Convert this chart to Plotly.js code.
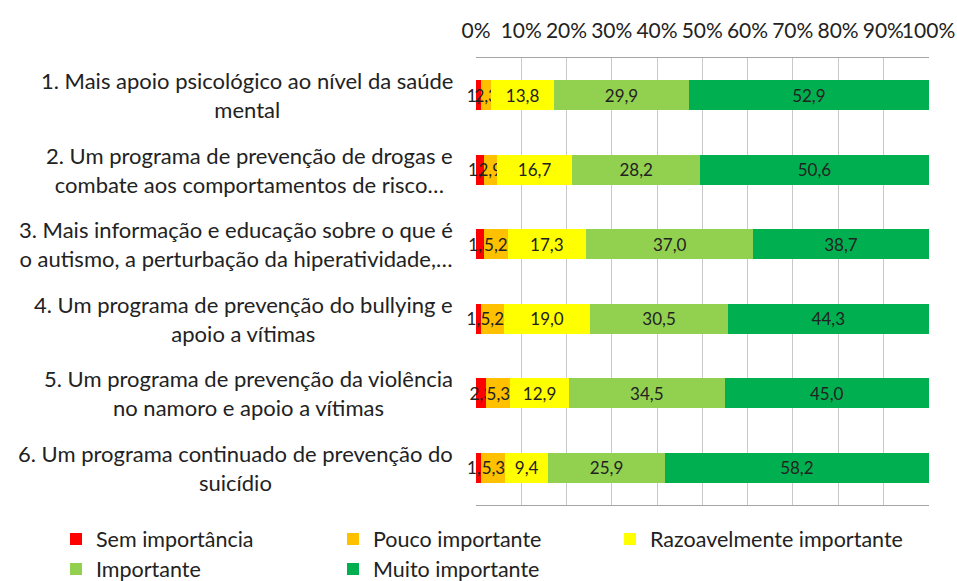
<!DOCTYPE html>
<html>
<head>
<meta charset="utf-8">
<script src="https://cdn.plot.ly/plotly-3.0.1.min.js"></script>
<style>html,body{margin:0;padding:0;background:#fff;}#chart{width:957px;height:581px;}</style>
</head>
<body>
<div id="chart"></div>
<script>
const categories = ["Q1", "Q2", "Q3", "Q4", "Q5", "Q6"];
const categoryLabels = [
  "1. Mais apoio psicológico ao nível da saúde<br>mental",
  "2. Um programa de prevenção de drogas e<br>combate aos comportamentos de risco…",
  "3. Mais informação e educação sobre o que é<br>o autismo, a perturbação da hiperatividade,…",
  "4. Um programa de prevenção do bullying e<br>apoio a vítimas",
  "5. Um programa de prevenção da violência<br>no namoro e apoio a vítimas",
  "6. Um programa continuado de prevenção do<br>suicídio"
];
const seriesNames = ["Sem importância", "Pouco importante", "Razoavelmente importante", "Importante", "Muito importante"];
const semImportancia = [1.1, 1.7, 1.8, 1.0, 2.3, 1.2];
const poucoImportante = [2.3, 2.9, 5.2, 5.2, 5.3, 5.3];
const razoavelmente = [13.8, 16.7, 17.3, 19.0, 12.9, 9.4];
const importante = [29.9, 28.2, 37.0, 30.5, 34.5, 25.9];
const muitoImportante = [52.9, 50.6, 38.7, 44.3, 45.0, 58.2];
const tickValues = [0, 10, 20, 30, 40, 50, 60, 70, 80, 90, 100];

const colors = ["#FF0000", "#FFC000", "#FFFF00", "#92D050", "#00B050"];
const allSeries = [semImportancia, poucoImportante, razoavelmente, importante, muitoImportante];
const legendIds = ["legend", "legend2", "legend3", "legend4", "legend5"];
// legend item placement (pixels in the figure): left edge and vertical centre
const legendLeft = [56, 333, 610, 56, 333];
const legendMid = [539, 539, 539, 569, 569];
const FONT = "Lato, sans-serif";

const traces = allSeries.map((vals, i) => ({
  type: "bar",
  orientation: "h",
  name: seriesNames[i],
  legend: legendIds[i],
  y: categories,
  x: vals,
  marker: {color: colors[i], line: {width: 0}},
  text: vals.map(v => v.toFixed(1).replace(".", ",")),
  textposition: "inside",
  insidetextanchor: "middle",
  textangle: 0,
  constraintext: "none",
  cliponaxis: false,
  textfont: {family: FONT, size: 17, color: "#222"},
  hoverinfo: "x+name"
}));

const annotations = categories.map((c, i) => ({
  xref: "paper", yref: "y",
  x: -0.046, y: c,
  xanchor: "right", yanchor: "middle",
  text: categoryLabels[i],
  align: "center",
  showarrow: false,
  font: {family: FONT, size: 22, color: "#222"}
}));

const ML = 476, MT = 58, PW = 453, PH = 447;

const layout = {
  width: 957, height: 581,
  margin: {l: ML, r: 28, t: MT, b: 76, autoexpand: false},
  barmode: "stack",
  bargap: 0.6,
  paper_bgcolor: "#fff",
  plot_bgcolor: "#fff",
  font: {family: FONT, color: "#222"},
  xaxis: {
    side: "top",
    range: [0, 100.1],
    tickvals: tickValues,
    ticktext: tickValues.map(v => v + "%"),
    tickangle: 0,
    showgrid: true,
    gridcolor: "#C8C8C8",
    gridwidth: 1,
    showline: true,
    linecolor: "#A6A6A6",
    mirror: true,
    zeroline: false,
    ticks: "",
    ticklabelstandoff: 11,
    tickfont: {family: FONT, size: 21, color: "#222"},
    fixedrange: true
  },
  yaxis: {
    type: "category",
    autorange: "reversed",
    showticklabels: false,
    showgrid: false,
    zeroline: false,
    ticks: "",
    fixedrange: true
  },
  showlegend: true,
  annotations: annotations
};

legendIds.forEach((id, i) => {
  layout[id] = {
    orientation: "h",
    xref: "paper", yref: "paper",
    x: (legendLeft[i] - ML) / PW,
    y: -(legendMid[i] - (MT + PH)) / PH,
    xanchor: "left", yanchor: "middle",
    font: {family: FONT, size: 21.5, color: "#222"},
    itemclick: false,
    bgcolor: "rgba(0,0,0,0)"
  };
});

Plotly.newPlot("chart", traces, layout, {displayModeBar: false, staticPlot: true});
</script>
</body>
</html>
